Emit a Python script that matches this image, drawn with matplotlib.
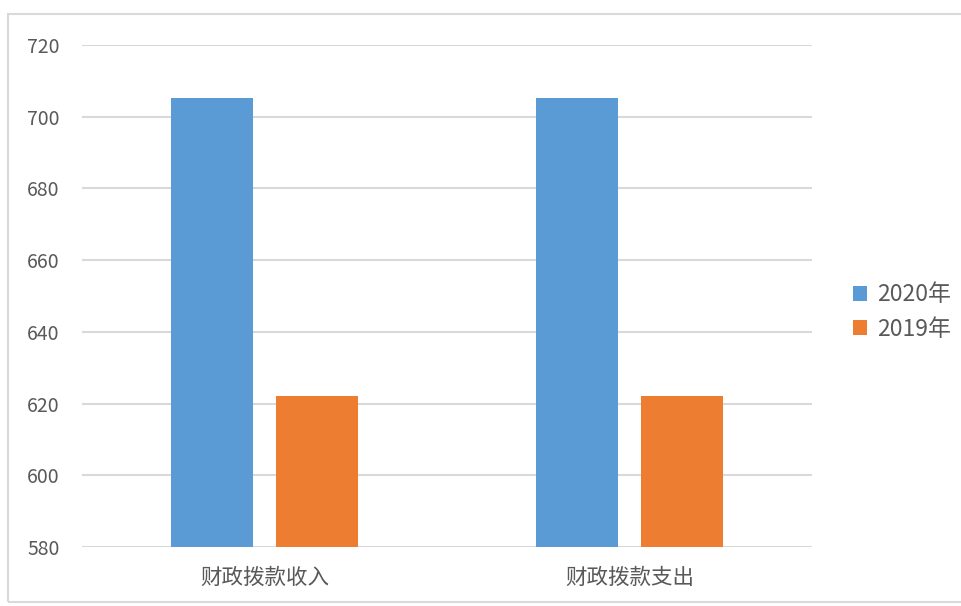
import numpy as np
import matplotlib
matplotlib.use("Agg")
from matplotlib import pyplot as plt
from matplotlib.patches import Rectangle

plt.rcParams['font.family'] = ['Noto Sans CJK SC', 'DejaVu Sans']

categories = ['财政拨款收入', '财政拨款支出']
series_names = ['2020年', '2019年']
values_2020 = [705.3, 705.3]
values_2019 = [622.2, 622.2]
yticks = [580, 600, 620, 640, 660, 680, 700, 720]

fig = plt.figure(figsize=(9.62, 6.06), dpi=100)
ax = fig.add_axes([0.0852, 0.0974, 0.7588, 0.8283])

x = np.arange(len(categories))
w = 0.224
ax.bar(x - 0.143, values_2020, w, color='#5B9BD5', label=series_names[0], zorder=3)
ax.bar(x + 0.143, values_2019, w, color='#ED7D31', label=series_names[1], zorder=3)

ax.set_xlim(-0.5, 1.5)
ax.set_ylim(580, 720)
ax.set_yticks(yticks)
ax.set_xticks(x)
ax.set_xticklabels(categories, fontsize=15.5, color='#595959')
ax.tick_params(axis='y', labelsize=14, labelcolor='#595959', length=0, pad=16)
ax.tick_params(axis='x', length=0, pad=14)
ax.yaxis.grid(True, color='#d9d9d9', linewidth=1.5, zorder=0)
for s in ax.spines.values():
    s.set_visible(False)

ax.legend(loc='center left', bbox_to_anchor=(1.028, 0.468), frameon=False,
          fontsize=16.5, handlelength=0.6, handleheight=0.6, handletextpad=0.45,
          labelspacing=0.5, labelcolor='#595959')

fig.patches.append(Rectangle((8 / 962, 4 / 606), 1.0, 1 - 18 / 606,
                             transform=fig.transFigure, fill=False,
                             edgecolor='#d9d9d9', linewidth=1.5))

fig.savefig('out.png', dpi=100)
